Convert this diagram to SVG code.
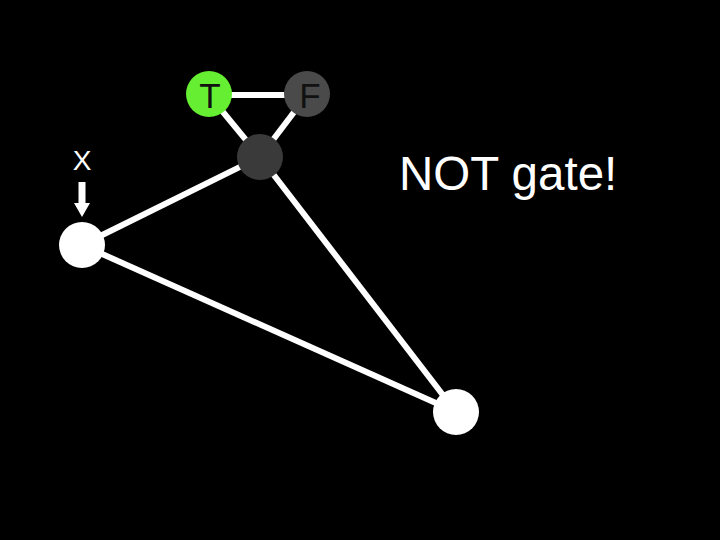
<svg xmlns="http://www.w3.org/2000/svg" width="720" height="540" viewBox="0 0 720 540">
<style>
.e{stroke:#fff;stroke-width:6;fill:none}
.n{stroke:none}
.t{font-family:"Liberation Sans",Arial,sans-serif}
</style>
<rect width="720" height="540" fill="#000"/>
<g id="connectors">
<line class="e" x1="209" y1="95" x2="307" y2="95"/>
<line class="e" x1="209" y1="95" x2="260" y2="157"/>
<line class="e" x1="307" y1="95" x2="260" y2="157"/>
<line class="e" x1="82" y1="245" x2="260" y2="157"/>
<line class="e" x1="260" y1="157" x2="456" y2="412"/>
<line class="e" x1="82" y1="245" x2="456" y2="412"/>
<polygon points="78.5,182 85.5,182 85.5,203 90,203 82,217 74,203 78.5,203" fill="#fff"/>
</g>
<g id="T"><circle class="n" cx="209" cy="94" r="23" fill="#66ee33"/><text class="t" x="210" y="108" font-size="35" text-anchor="middle" fill="#111">T</text></g>
<g id="F"><circle class="n" cx="307" cy="94" r="23" fill="#4a4a4a"/><text class="t" x="310" y="108" font-size="35" text-anchor="middle" fill="#111">F</text></g>
<g id="mid"><circle class="n" cx="260" cy="157" r="23" fill="#3a3a3a"/></g>
<g id="X"><circle class="n" cx="82" cy="245" r="23" fill="#fff"/><text class="t" x="82" y="170" font-size="28" text-anchor="middle" fill="#fff">X</text></g>
<g id="bottom"><circle class="n" cx="456" cy="412" r="23" fill="#fff"/></g>
<text class="t" x="399" y="190" font-size="47.5" fill="#fff">NOT gate!</text>
</svg>
